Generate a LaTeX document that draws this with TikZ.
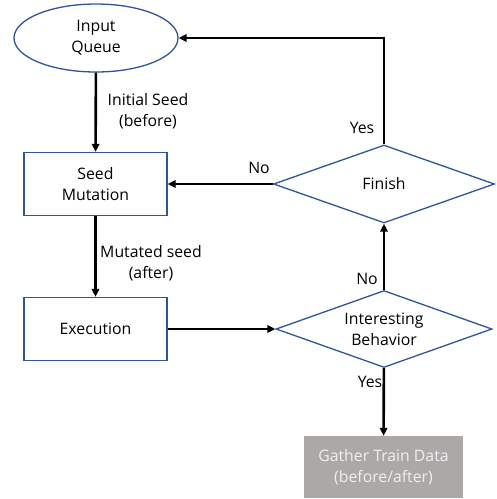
\documentclass[tikz,border=0pt]{standalone}
\usepackage{fontspec}
\setmainfont{Open Sans}
\usetikzlibrary{shapes.geometric,arrows.meta}
\definecolor{edgeblue}{RGB}{47,85,151}
\definecolor{boxgray}{RGB}{172,168,167}
\definecolor{softwhite}{RGB}{240,240,240}
\begin{document}
\begin{tikzpicture}[x=1pt,y=-1pt,
  every node/.style={font=\fontsize{15.8}{21}\selectfont, align=center, inner sep=0pt},
  outline/.style={draw=edgeblue, line width=1.3pt, fill=white},
  procbox/.style={outline, rectangle, minimum width=143, minimum height=63},
  decision/.style={outline, diamond, aspect=2.8},
  flow/.style={line width=2.6pt, -{Triangle[length=8pt,width=7.5pt]}},
  tag/.style={font=\fontsize{15.8}{21}\selectfont}
]
\useasboundingbox (0,0) rectangle (497,499);

% nodes
\node[outline, ellipse, minimum width=164, minimum height=68] (queue) at (96,38) {Input\\Queue};
\node[procbox] (mut) at (95.5,184) {Seed\\Mutation};
\node[procbox] (exec) at (95.5,329) {Execution};
\node[decision, minimum width=221, minimum height=78] (finish) at (384,184) {Finish};
\node[decision, minimum width=216, minimum height=77] (inter) at (384,329) {Interesting\\Behavior};
\node[rectangle, fill=boxgray, text=softwhite, minimum width=159, minimum height=62] (gather) at (383.5,467) {Gather Train Data\\(before/after)};

% connectors
\draw[flow] (queue) -- (mut);
\draw[flow] (mut) -- (exec);
\draw[flow] (exec) -- (inter);
\draw[flow] (inter) -- (finish);
\draw[flow] (inter) -- (gather);
\draw[flow] (finish) -- (mut);
\draw[flow] (finish.north) |- (queue.east);

% labels
\node[tag] (l1) at (148,111) {Initial Seed\\(before)};
\node[tag] (l2) at (151,263) {Mutated seed\\(after)};
\node[tag] (l3) at (362,128) {Yes};
\node[tag] (l4) at (259,168) {No};
\node[tag] (l5) at (367,279) {No};
\node[tag] (l6) at (370,382) {Yes};
\end{tikzpicture}
\end{document}
